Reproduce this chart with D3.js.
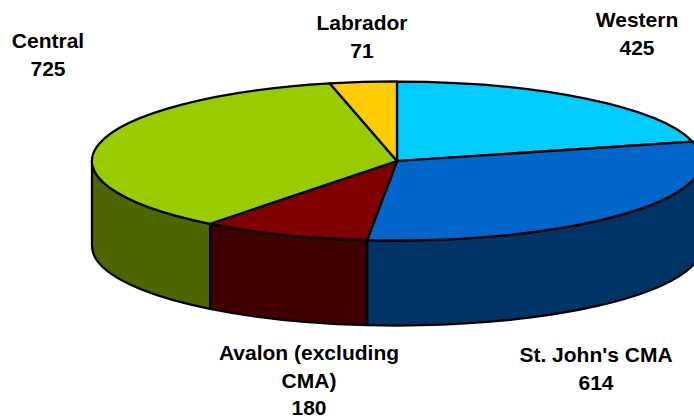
<!DOCTYPE html>
<html lang="en">
<head>
    <meta charset="UTF-8">
    <title>Pie</title>
    <script src="https://d3js.org/d3.v7.min.js"></script>
    <style>
        html, body { margin: 0; padding: 0; background: #fff; }
        svg { display: block; }
    </style>
</head>
<body>
    <script>
        const categories = ["Western", "St. John's CMA", "Avalon (excluding CMA)", "Central", "Labrador"];
        const values = [425, 614, 180, 725, 71];

        const width = 694;
        const height = 418;

        const topColors = ["#00ccff", "#0066cc", "#800000", "#99cc00", "#ffcc00"];
        const sideColors = ["#006680", "#003366", "#400000", "#4d6600", "#806600"];

        // label anchor (centre x, first baseline y) and wrapped lines
        const labelLayout = [
            {x: 637, y: 27, lines: ["Western"]},
            {x: 596, y: 362, lines: ["St. John's CMA"]},
            {x: 309, y: 360, lines: ["Avalon (excluding", "CMA)"]},
            {x: 48, y: 48, lines: ["Central"]},
            {x: 362, y: 30, lines: ["Labrador"]}
        ];

        const cx = 397, cy = 161, rx = 305, ry = 79.5, depth = 85;

        const svg = d3.select("body").append("svg")
            .attr("width", width)
            .attr("height", height)
            .attr("viewBox", [0, 0, width, height]);

        const slices = d3.pie().sort(null).value(d => d)(values);

        const px = a => cx + rx * Math.sin(a);
        const py = a => cy - ry * Math.cos(a);

        // only the part of the rim facing the viewer gets a wall
        function wallPath(d) {
            const a0 = Math.max(d.startAngle, Math.PI / 2);
            const a1 = Math.min(d.endAngle, Math.PI * 1.5);
            if (a1 <= a0) return null;
            return `M${px(a0)},${py(a0)}`
                + `A${rx},${ry} 0 0 1 ${px(a1)},${py(a1)}`
                + `L${px(a1)},${py(a1) + depth}`
                + `A${rx},${ry} 0 0 0 ${px(a0)},${py(a0) + depth}Z`;
        }

        svg.append("g")
            .attr("stroke", "#000")
            .attr("stroke-width", 2.25)
            .attr("stroke-linejoin", "round")
            .selectAll("path")
            .data(slices.filter(wallPath))
            .join("path")
            .attr("fill", d => sideColors[d.index])
            .attr("d", wallPath);

        const arc = d3.arc().innerRadius(0).outerRadius(1);

        svg.append("g")
            .attr("transform", `translate(${cx},${cy}) scale(${rx},${ry})`)
            .selectAll("path")
            .data(slices)
            .join("path")
            .attr("fill", d => topColors[d.index])
            .attr("stroke", "#000")
            .attr("stroke-width", 2.25)
            .attr("stroke-linejoin", "round")
            .attr("vector-effect", "non-scaling-stroke")
            .attr("d", arc);

        const label = svg.append("g")
            .attr("font-family", "'Liberation Sans', Arial, sans-serif")
            .attr("font-weight", "bold")
            .attr("font-size", 21)
            .attr("fill", "#000")
            .attr("text-anchor", "middle")
            .selectAll("text")
            .data(categories)
            .join("text")
            .attr("transform", (d, i) => `translate(${labelLayout[i].x},${labelLayout[i].y})`);

        label.selectAll("tspan")
            .data((d, i) => [...labelLayout[i].lines, String(values[i])])
            .join("tspan")
            .attr("x", 0)
            .attr("y", (d, i) => i * 27.6)
            .text(d => d);
    </script>
</body>
</html>
